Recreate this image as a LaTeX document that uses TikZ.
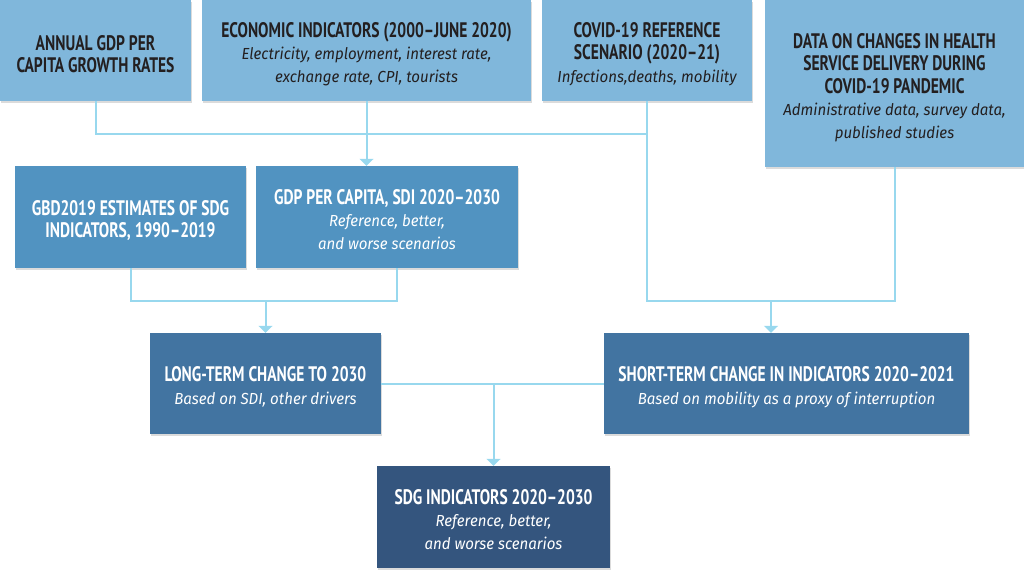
\documentclass[tikz,border=0pt]{standalone}
\usepackage{fontspec}
\usetikzlibrary{arrows.meta,shadows}
\newfontfamily\tfont{PT Sans}[FakeStretch=0.74]
\newfontfamily\sfont{Fira Sans}[FakeStretch=0.94]
\definecolor{cA}{HTML}{80B7DB}
\definecolor{cB}{HTML}{5193C1}
\definecolor{cC}{HTML}{4274A1}
\definecolor{cD}{HTML}{34557E}
\definecolor{ln}{HTML}{98D8EE}
\definecolor{dk}{HTML}{231F20}
\newcommand\ttl[1]{{\tfont\bfseries\fontsize{21}{22.5}\selectfont #1}}
\newcommand\sbt[1]{{\sfont\itshape\fontsize{16}{22.5}\selectfont #1}}
\tikzset{
  box/.style={rectangle, inner sep=0pt,
    drop shadow={shadow xshift=0.8pt, shadow yshift=-1.6pt, fill=black, opacity=0.14}},
  toprow/.style={box, fill=cA},
  midrow/.style={box, fill=cB},
  lowrow/.style={box, fill=cC},
  endrow/.style={box, fill=cD},
  txt/.style={inner sep=0pt, align=center, font=\fontsize{20}{22.5}\selectfont},
  dtxt/.style={txt, text=dk},
  wtxt/.style={txt, text=white},
  conn/.style={draw=ln, line width=2pt},
  arr/.style={conn, -{Triangle[width=14pt,length=7pt]}},
}
\begin{document}
\begin{tikzpicture}[x=1pt,y=-1pt]
\useasboundingbox (0,0) rectangle (1024,570);
% boxes
\node[toprow, minimum width=191pt, minimum height=101pt] (A) at (95.5,50.5) {};
\node[toprow, minimum width=329pt, minimum height=101pt] (B) at (366.5,50.5) {};
\node[toprow, minimum width=210pt, minimum height=101pt] (C) at (647,50.5) {};
\node[toprow, minimum width=259pt, minimum height=167pt] (D) at (894.5,83.5) {};
\node[midrow, minimum width=231pt, minimum height=102pt] (E) at (130.5,217) {};
\node[midrow, minimum width=262pt, minimum height=102pt] (F) at (387,217) {};
\node[lowrow, minimum width=231pt, minimum height=101pt] (L) at (265.5,383.5) {};
\node[lowrow, minimum width=365pt, minimum height=101pt] (S) at (786.5,383.5) {};
\node[endrow, minimum width=233pt, minimum height=102pt] (G) at (493.5,517) {};
% texts
\node[dtxt] (At) at ([yshift=-3.5pt]A.center)
  {\ttl{ANNUAL GDP PER}\\\ttl{CAPITA GROWTH RATES}};
\node[dtxt] (Bt) at ([yshift=-3.5pt]B.center)
  {\ttl{ECONOMIC INDICATORS (2000–JUNE 2020)}\\\sbt{Electricity, employment, interest rate,}\\\sbt{exchange rate, CPI, tourists}};
\node[dtxt] (Ct) at ([yshift=-3.5pt]C.center)
  {\ttl{COVID-19 REFERENCE}\\\ttl{SCENARIO (2020–21)}\\\sbt{Infections,deaths, mobility}};
\node[dtxt] (Dt) at ([yshift=-4pt]D.center)
  {\ttl{DATA ON CHANGES IN HEALTH}\\\ttl{SERVICE DELIVERY DURING}\\\ttl{COVID-19 PANDEMIC}\\\sbt{Administrative data, survey data,}\\\sbt{published studies}};
\node[wtxt] (Et) at ([yshift=-3.5pt]E.center)
  {\ttl{GBD2019 ESTIMATES OF SDG}\\\ttl{INDICATORS, 1990–2019}};
\node[wtxt] (Ft) at ([yshift=-2.5pt]F.center)
  {\ttl{GDP PER CAPITA, SDI 2020–2030}\\\sbt{Reference, better,}\\\sbt{and worse scenarios}};
\node[wtxt] (Lt) at ([yshift=-3.5pt]L.center)
  {\ttl{LONG-TERM CHANGE TO 2030}\\\sbt{Based on SDI, other drivers}};
\node[wtxt] (St) at ([yshift=-3.5pt]S.center)
  {\ttl{SHORT-TERM CHANGE IN INDICATORS 2020–2021}\\\sbt{Based on mobility as a proxy of interruption}};
\node[wtxt] (Gt) at ([yshift=-2.5pt]G.center)
  {\ttl{SDG INDICATORS 2020–2030}\\\sbt{Reference, better,}\\\sbt{and worse scenarios}};
% junction points
\coordinate (h1) at (647,134);
\coordinate (r1) at (647,301);
\coordinate (r2) at (771,301);
\coordinate (l2) at (397,301);
% connectors
\draw[conn] (A.south) |- (h1);
\draw[arr] (B.south) -- (B.south |- F.north);
\draw[conn] (C.south) -- (r1) -| (D.south);
\draw[arr] (r2) -- (r2 |- S.north);
\draw[conn] (E.south) |- (l2) -- (l2 |- F.south);
\draw[arr] (L.north |- l2) -- (L.north);
\draw[conn] (L.east) -- (S.west);
\draw[arr] (G.north |- L.east) -- (G.north);
\end{tikzpicture}
\end{document}
